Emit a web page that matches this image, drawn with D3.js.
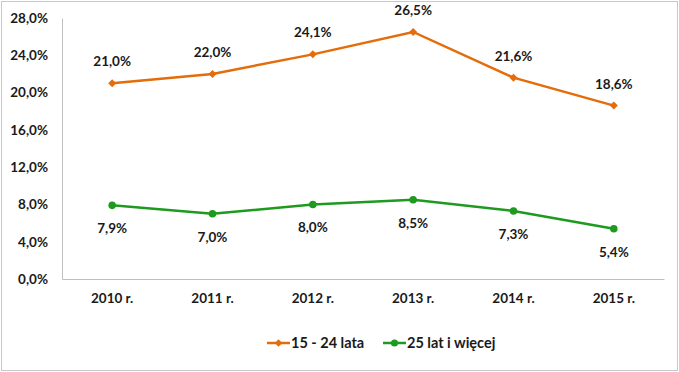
<!DOCTYPE html>
<html>
<head>
<meta charset="utf-8">
<script src="https://cdn.jsdelivr.net/npm/d3@7"></script>
<style>
  body { margin: 0; background: #fff; }
  text { font-family: Lato, "Open Sans", sans-serif; font-weight: bold; fill: #1a1a1a; }
</style>
</head>
<body>
<svg id="chart" width="679" height="372"></svg>
<script>
// chart data
const years = ["2010 r.", "2011 r.", "2012 r.", "2013 r.", "2014 r.", "2015 r."];
const young = [21.0, 22.0, 24.1, 26.5, 21.6, 18.6];   // 15 - 24 lata
const older = [7.9, 7.0, 8.0, 8.5, 7.3, 5.4];         // 25 lat i więcej
const yTicks = [0, 4, 8, 12, 16, 20, 24, 28];

const seriesNames = ["15 - 24 lata", "25 lat i więcej"];
const orange = "#E46C0A";
const green = "#1E9A1E";

const svg = d3.select("#chart");
const W = 679, H = 372;
const margin = {left: 62, right: 15, top: 18, bottom: 93};

// outer frame
svg.append("rect")
  .attr("x", 1.5).attr("y", 1.5)
  .attr("width", W - 3).attr("height", H - 3)
  .attr("fill", "none").attr("stroke", "#c8c8c8").attr("stroke-width", 1);

const x = d3.scaleBand().domain(years).range([margin.left, W - margin.right]);
const y = d3.scaleLinear().domain([0, 28]).range([H - margin.bottom, margin.top]);

const fmt = v => v.toFixed(1).replace(".", ",") + "%";

// y axis
const yAxis = svg.append("g")
  .attr("transform", `translate(${margin.left},0)`)
  .call(d3.axisLeft(y).tickValues(yTicks).tickSize(0).tickPadding(14).tickFormat(fmt));
yAxis.select(".domain").attr("stroke", "#bfbfbf");
yAxis.selectAll("text").style("font-size", "13.5px").style("font-family", "Lato, sans-serif").style("font-weight", "bold");

// x axis
const xAxis = svg.append("g")
  .attr("transform", `translate(0,${y(0)})`)
  .call(d3.axisBottom(x).tickSize(0).tickPadding(14));
xAxis.select(".domain").attr("stroke", "#bfbfbf");
xAxis.selectAll("text").style("font-size", "13.5px").style("font-family", "Lato, sans-serif").style("font-weight", "bold");

const cx = d => x(d) + x.bandwidth() / 2;

function drawSeries(vals, color, marker, labelDy) {
  const pts = vals.map((v, i) => ({cat: years[i], v}));
  const line = d3.line().x(d => cx(d.cat)).y(d => y(d.v));
  svg.append("path").datum(pts)
    .attr("d", line).attr("fill", "none")
    .attr("stroke", color).attr("stroke-width", 2.5);
  const rot = marker === d3.symbolSquare ? 45 : 0;
  svg.append("g").selectAll("path").data(pts).join("path")
    .attr("transform", d => `translate(${cx(d.cat)},${y(d.v)}) rotate(${rot})`)
    .attr("d", d3.symbol(marker, rot ? 32 : 45)())
    .attr("fill", color);
  svg.append("g").selectAll("text").data(pts).join("text")
    .attr("x", d => cx(d.cat)).attr("y", d => y(d.v) + labelDy)
    .attr("text-anchor", "middle")
    .style("font-size", "13.5px")
    .text(d => fmt(d.v));
}

drawSeries(young, orange, d3.symbolSquare, -17);
drawSeries(older, green, d3.symbolCircle, 28);

// legend
const legend = [
  {name: seriesNames[0], color: orange, marker: d3.symbolSquare, x: 267},
  {name: seriesNames[1], color: green, marker: d3.symbolCircle, x: 383}
];
const lg = svg.append("g").attr("transform", "translate(0,343)");
legend.forEach(l => {
  lg.append("line").attr("x1", l.x).attr("x2", l.x + 23).attr("y1", 0).attr("y2", 0)
    .attr("stroke", l.color).attr("stroke-width", 2.5);
  const rot = l.marker === d3.symbolSquare ? 45 : 0;
  lg.append("path").attr("transform", `translate(${l.x + 11.5},0) rotate(${rot})`)
    .attr("d", d3.symbol(l.marker, rot ? 28 : 40)()).attr("fill", l.color);
  lg.append("text").attr("x", l.x + 24).attr("y", 5)
    .style("font-size", "14.5px").text(l.name);
});
</script>
</body>
</html>
